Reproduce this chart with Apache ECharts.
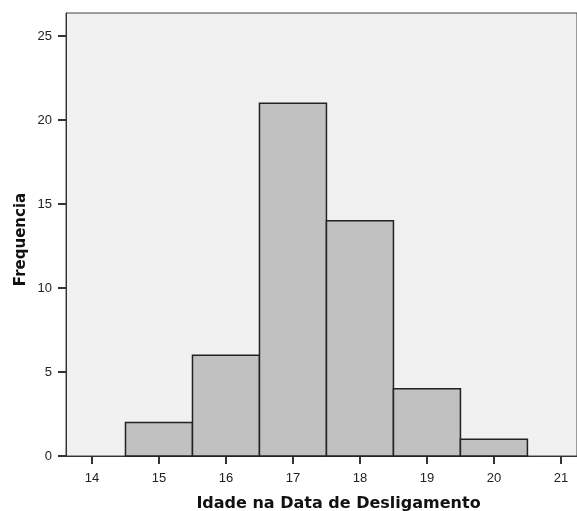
<!DOCTYPE html>
<html>
<head>
<meta charset="utf-8">
<script src="https://cdn.jsdelivr.net/npm/echarts@6/dist/echarts.min.js"></script>
<style>
html,body{margin:0;padding:0;background:#fff;}
#chart{width:577px;height:511px;}
</style>
</head>
<body>
<div id="chart"></div>
<script>
// Histogram data: age bins (centres) and their frequencies
const ages = [15, 16, 17, 18, 19, 20];
const frequencies = [2, 6, 21, 14, 4, 1];
const binWidth = 1;
const xTicks = [14, 15, 16, 17, 18, 19, 20, 21];
const yTicks = [0, 5, 10, 15, 20, 25];
const xTitle = 'Idade na Data de Desligamento';
const yTitle = 'Frequencia';

const chart = echarts.init(document.getElementById('chart'), null, {renderer: 'canvas'});

const data = ages.map((a, i) => [a - binWidth / 2, a + binWidth / 2, frequencies[i]]);

const option = {
  animation: false,
  backgroundColor: '#ffffff',
  grid: {
    left: 66, top: 13, right: 0, bottom: 55,
    outerBoundsMode: 'none',
    containLabel: false,
    show: true, backgroundColor: '#f1f1f1', borderColor: '#444', borderWidth: 1
  },
  xAxis: {
    type: 'value',
    min: 13.612,
    max: 21.24,
    interval: 1,
    name: xTitle,
    nameLocation: 'middle',
    nameGap: 40,
    nameMoveOverlap: false,
    nameTextStyle: {fontFamily: 'DejaVu Sans', fontWeight: 'bold', fontSize: 16, color: '#111',
      padding: [0, 0, 0, 34]},
    axisLine: {show: true, onZero: false, lineStyle: {color: '#333', width: 1}},
    axisTick: {show: true, length: 8, lineStyle: {color: '#333', width: 2},
      customValues: xTicks},
    axisLabel: {margin: 16, fontFamily: 'Liberation Sans', fontSize: 13, color: '#222',
      customValues: xTicks, formatter: v => String(v)},
    splitLine: {show: false}
  },
  yAxis: {
    type: 'value',
    min: 0,
    max: 26.37,
    interval: 5,
    name: yTitle,
    nameLocation: 'middle',
    nameGap: 37,
    nameMoveOverlap: false,
    nameTextStyle: {fontFamily: 'DejaVu Sans', fontWeight: 'bold', fontSize: 15, color: '#111',
      padding: [0, 10, 0, 0]},
    axisLine: {show: true, lineStyle: {color: '#333', width: 1}},
    axisTick: {show: true, length: 8, lineStyle: {color: '#333', width: 2},
      customValues: yTicks},
    axisLabel: {margin: 14, fontFamily: 'Liberation Sans', fontSize: 13, color: '#222',
      customValues: yTicks, formatter: v => String(v)},
    splitLine: {show: false}
  },
  series: [{
    type: 'custom',
    renderItem: function (params, api) {
      const x0 = api.value(0), x1 = api.value(1), y = api.value(2);
      const p0 = api.coord([x0, y]);
      const p1 = api.coord([x1, 0]);
      return {
        type: 'rect',
        shape: {x: p0[0], y: p0[1], width: p1[0] - p0[0], height: p1[1] - p0[1]},
        style: {fill: '#c1c1c1', stroke: '#222', lineWidth: 1.5}
      };
    },
    encode: {x: [0, 1], y: 2},
    data: data,
    clip: false
  }]
};
chart.setOption(option);
</script>
</body>
</html>
